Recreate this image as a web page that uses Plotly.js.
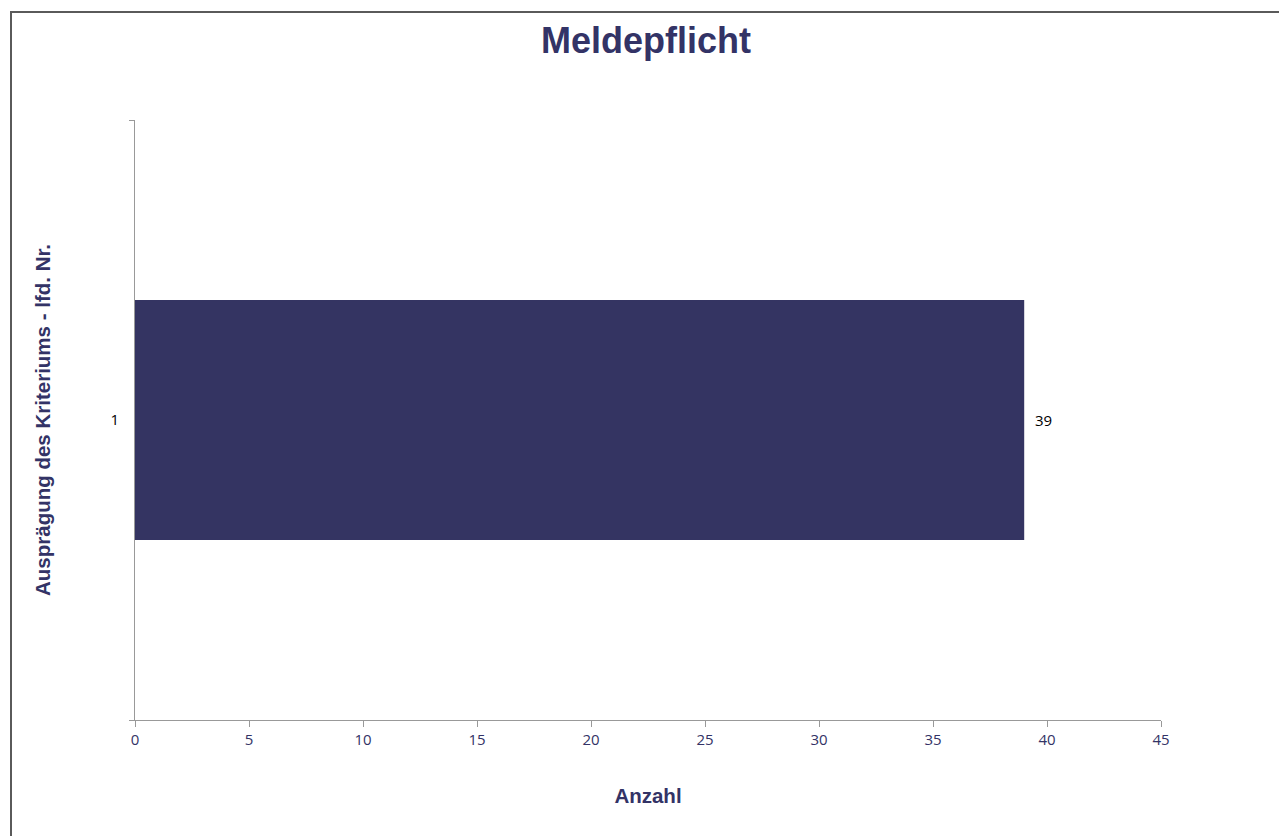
<!DOCTYPE html>
<html>
<head>
<meta charset="utf-8">
<script src="https://cdn.plot.ly/plotly-3.0.1.min.js"></script>
<style>
html,body{margin:0;padding:0;background:#fff;overflow:hidden;}
#frame{position:absolute;left:10px;top:11px;width:1300px;height:900px;border-left:2px solid #5a5a5a;border-top:2px solid #5a5a5a;box-sizing:border-box;}
#chart{position:absolute;left:0;top:0;width:1279px;height:836px;}
</style>
</head>
<body>
<div id="chart"></div>
<div id="frame"></div>
<script>
const categories = ["1"];
const values = [39];
const chartTitle = "Meldepflicht";
const xTitle = "Anzahl";
const yTitle = "Ausprägung des Kriteriums - lfd. Nr.";

const navy = "#333366";

const trace = {
  type: "bar",
  orientation: "h",
  y: categories,
  x: values,
  width: 0.4,
  marker: {color: "#343462", line: {width: 0}},
  text: values.map(v => String(v)),
  texttemplate: "  %{text}",
  textposition: "outside",
  textfont: {family: "Open Sans, DejaVu Sans, sans-serif", size: 15, color: "#000"},
  cliponaxis: false,
  hoverinfo: "none"
};

const layout = {
  width: 1279,
  height: 836,
  paper_bgcolor: "rgba(0,0,0,0)",
  plot_bgcolor: "#fff",
  margin: {l: 135, r: 118, t: 120, b: 116},
  showlegend: false,
  title: {
    text: "<b>" + chartTitle + "</b>",
    font: {family: "Liberation Sans, Arial, sans-serif", size: 36, color: navy},
    x: 646/1279, xanchor: "center", xref: "container",
    y: 1 - 40/836, yanchor: "middle", yref: "container"
  },
  xaxis: {
    range: [0, 45],
    dtick: 5,
    tick0: 0,
    showgrid: false,
    zeroline: false,
    showline: true,
    linecolor: "#999",
    linewidth: 1,
    ticks: "outside",
    ticklen: 6,
    tickcolor: "#999",
    tickfont: {family: "Open Sans, DejaVu Sans, sans-serif", size: 15, color: navy},
    title: {text: "<b>" + xTitle + "</b>", font: {family: "Liberation Sans, Arial, sans-serif", size: 20.5, color: navy}, standoff: 40}
  },
  yaxis: {
    type: "category",
    range: [-0.5, 0.5],
    showgrid: false,
    zeroline: false,
    showline: true,
    linecolor: "#999",
    linewidth: 1,
    ticks: "outside",
    tickson: "boundaries",
    ticklen: 5,
    tickcolor: "#999",
    tickfont: {family: "Open Sans, DejaVu Sans, sans-serif", size: 15, color: "#000"},
    ticklabelstandoff: 12,
    title: {text: "<b>" + yTitle + "</b>", font: {family: "Liberation Sans, Arial, sans-serif", size: 20.5, color: navy}, standoff: 54}
  }
};

Plotly.newPlot("chart", [trace], layout, {displayModeBar: false, staticPlot: true});
</script>
</body>
</html>
